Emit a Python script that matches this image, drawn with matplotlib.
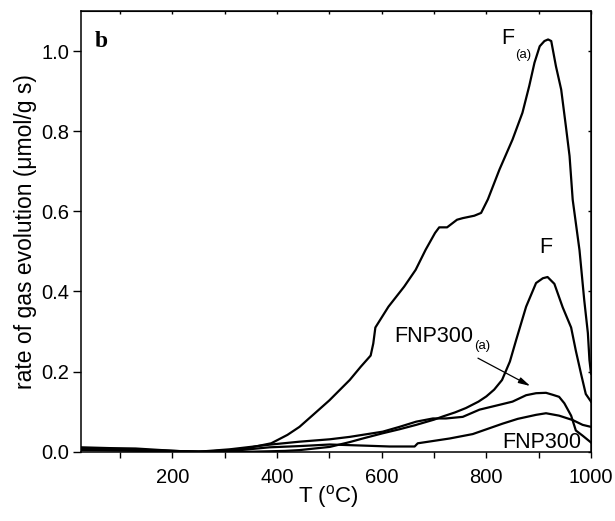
import matplotlib
matplotlib.use("Agg")
import matplotlib.pyplot as plt
from matplotlib.ticker import MultipleLocator

# Temperature (°C) and rate of gas evolution (µmol/g s) for each sample
T_Fa = [25, 80, 130, 180, 220, 260, 300, 340, 389, 420, 443, 469, 500, 539, 560,
        579, 584, 588, 613, 643, 665, 684, 702, 710, 725, 744, 755, 777, 790, 803,
        825, 850, 869, 882, 892, 902, 911, 918, 924, 933, 943, 952, 959, 965, 978,
        987, 994, 997, 1000]
rate_Fa = [0.011, 0.009, 0.008, 0.004, 0.001, 0.000, 0.003, 0.008, 0.021, 0.042,
           0.062, 0.092, 0.128, 0.179, 0.212, 0.240, 0.270, 0.310, 0.362, 0.412,
           0.454, 0.504, 0.546, 0.560, 0.560, 0.579, 0.583, 0.589, 0.596, 0.630,
           0.704, 0.779, 0.846, 0.913, 0.971, 1.012, 1.025, 1.029, 1.025, 0.962,
           0.904, 0.812, 0.738, 0.629, 0.503, 0.379, 0.296, 0.229, 0.195]

T_F = [25, 100, 180, 250, 350, 415, 443, 501, 539, 564, 602, 634, 666, 700, 717,
       740, 761, 785, 800, 815, 830, 845, 857, 876, 895, 908, 917, 930, 946, 962,
       971, 981, 990, 1000]
rate_F = [0.005, 0.004, 0.002, 0.000, 0.000, 0.002, 0.004, 0.012, 0.024, 0.033,
          0.046, 0.056, 0.067, 0.080, 0.088, 0.098, 0.109, 0.125, 0.138, 0.155,
          0.179, 0.225, 0.279, 0.362, 0.421, 0.433, 0.436, 0.419, 0.360, 0.310,
          0.252, 0.194, 0.144, 0.125]

T_FNPa = [25, 100, 180, 250, 310, 389, 443, 501, 539, 602, 634, 666, 698, 723, 755,
          787, 825, 850, 876, 895, 914, 927, 939, 949, 962, 971, 984, 1000]
rate_FNPa = [0.008, 0.006, 0.003, 0.000, 0.006, 0.018, 0.025, 0.031, 0.037, 0.050,
             0.062, 0.075, 0.083, 0.083, 0.087, 0.105, 0.117, 0.125, 0.141, 0.146,
             0.147, 0.142, 0.137, 0.121, 0.090, 0.053, 0.040, 0.023]

T_FNP = [25, 100, 180, 250, 330, 386, 443, 501, 571, 615, 663, 669, 730, 774, 831,
         860, 895, 914, 939, 965, 984, 1000]
rate_FNP = [0.004, 0.003, 0.001, 0.000, 0.004, 0.011, 0.014, 0.018, 0.015, 0.013,
            0.013, 0.021, 0.033, 0.044, 0.070, 0.082, 0.092, 0.096, 0.090, 0.079,
            0.067, 0.062]

x_major = [200, 400, 600, 800, 1000]
y_major = [0.0, 0.2, 0.4, 0.6, 0.8, 1.0]

plt.rcParams["font.family"] = ["Liberation Sans", "DejaVu Sans"]
plt.rcParams["mathtext.fontset"] = "custom"
plt.rcParams["mathtext.rm"] = "Liberation Sans"

fig = plt.figure(figsize=(6.15, 5.21), dpi=100)
ax = fig.add_axes([0.1312, 0.1330, 0.8298, 0.8459])

for T, r in [(T_Fa, rate_Fa), (T_F, rate_F), (T_FNPa, rate_FNPa), (T_FNP, rate_FNP)]:
    ax.plot(T, r, color="black", lw=1.6, solid_joinstyle="round")

ax.set_xlim(25, 1000)
ax.set_ylim(0, 1.1)
ax.set_xticks(x_major)
ax.xaxis.set_minor_locator(MultipleLocator(100))
ax.set_yticks(y_major)
ax.set_yticklabels([f"{v:.1f}" for v in y_major])

for s in ax.spines.values():
    s.set_linewidth(1.1)

ax.tick_params(axis="x", which="both", direction="out", length=4, width=1,
               labelsize=14.5, pad=8)
ax.tick_params(axis="y", which="major", direction="out", length=6, width=1,
               labelsize=14.5, pad=2.5)

top = ax.secondary_xaxis("top")
top.set_xticks(list(range(100, 1001, 100)))
top.tick_params(direction="in", length=2.5, width=1, labeltop=False)
right = ax.secondary_yaxis("right")
right.set_yticks(y_major)
right.tick_params(direction="in", length=2.5, width=1, labelright=False)

ax.set_xlabel(r"T ($\mathregular{^o}$C)", fontsize=16)
ax.xaxis.set_label_coords(0.485, -0.07)
ax.set_ylabel("rate of gas evolution (\u03bcmol/g s)", fontsize=16.5)
ax.yaxis.set_label_coords(-0.086, 0.5)

# panel letter and curve labels
ax.text(52, 1.009, "b", fontsize=17, fontweight="bold",
        family=["Liberation Serif", "DejaVu Serif"], va="baseline")

lab_Fa = ax.text(828, 1.017, "F", fontsize=15.5, va="baseline")
ax.annotate("(a)", xy=(1, 0), xycoords=lab_Fa, xytext=(1, -6),
            textcoords="offset points", fontsize=9.5, va="baseline")

ax.text(901, 0.496, "F", fontsize=15.5, va="baseline")

lab_FNPa = ax.text(624, 0.275, "FNP300", fontsize=15.5, va="baseline")
ax.annotate("(a)", xy=(1, 0), xycoords=lab_FNPa, xytext=(0.5, -2),
            textcoords="offset points", fontsize=9.5, va="baseline")

ax.text(981, 0.0085, "FNP300", fontsize=15.5, va="baseline", ha="right")

ax.annotate("", xy=(884, 0.164), xytext=(784, 0.2335),
            arrowprops=dict(arrowstyle="-|>,head_length=0.7,head_width=0.18",
                            color="black", lw=0.9, shrinkA=0, shrinkB=0))

fig.savefig("out.png", dpi=100)
